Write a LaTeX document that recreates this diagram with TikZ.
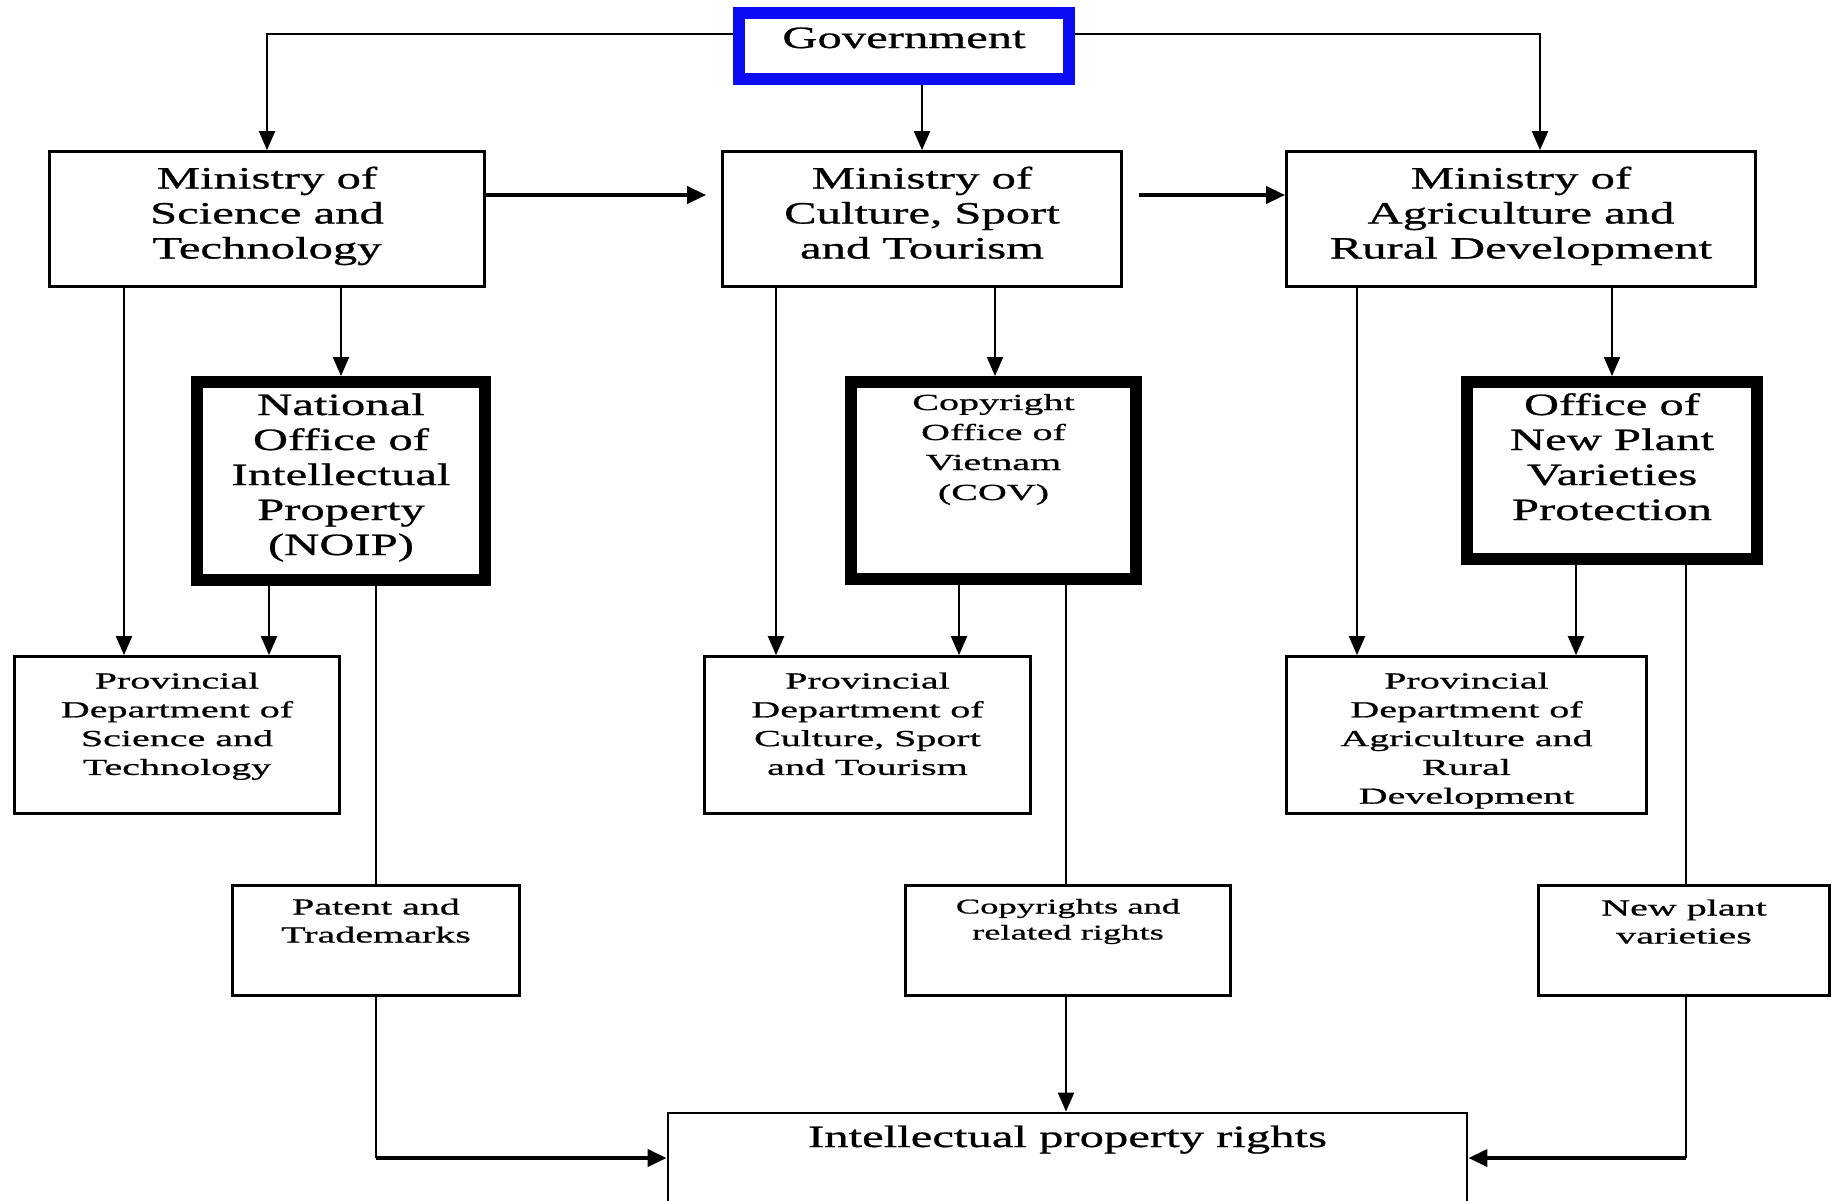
\documentclass[tikz,border=0pt]{standalone}
\usepackage{fontspec}
\usetikzlibrary{arrows.meta}
\setmainfont{Liberation Serif}
\newfontfamily\wideB[FakeStretch=1.57,FakeBold=0.8]{Liberation Serif}
\newfontfamily\wideS[FakeStretch=1.74,FakeBold=0.8]{Liberation Serif}
\definecolor{govblue}{RGB}{12,12,245}
\newcommand\tb[4]{\parbox[c][#2][t]{#1}{\centering\vspace*{\dimexpr#3-\ht\strutbox\relax}\leavevmode\strut#4}}
\tikzset{
  thinbox/.style={draw, line width=2.8pt, inner sep=0pt},
  thickbox/.style={draw, line width=12pt, inner sep=0pt},
  govbox/.style={draw=govblue, line width=12pt, inner sep=0pt},
  bigtext/.style={font=\fontsize{31}{35}\wideB},
  smalltext/.style={font=\fontsize{23}{28.8}\wideS},
  conn/.style={line width=2.2pt},
  arr/.style={-{Triangle[length=19pt,width=16pt]}},
  harr/.style={line width=3.8pt, -{Triangle[length=19pt,width=17pt]}}
}
\begin{document}
\begin{tikzpicture}[x=1pt,y=-1pt]
\fill[white] (0,0) rectangle (1833,1200);
\useasboundingbox (0,0) rectangle (1833,1200);

% boxes
\node[govbox, bigtext] (gov) at (904,46) {\tb{330pt}{66pt}{35pt}{Government}};
\node[thinbox, bigtext] (mst) at (267,219) {\tb{435pt}{135pt}{37pt}{Ministry of\\Science and\\Technology}};
\node[thinbox, bigtext] (mcu) at (922,219) {\tb{399pt}{135pt}{37pt}{Ministry of\\Culture, Sport\\and Tourism}};
\node[thinbox, bigtext] (mag) at (1521,219) {\tb{469pt}{135pt}{37pt}{Ministry of\\Agriculture and\\Rural Development}};
\node[thickbox, bigtext] (noip) at (341,481) {\tb{288pt}{198pt}{33pt}{National\\Office of\\Intellectual\\Property\\(NOIP)}};
\node[thickbox, font=\fontsize{23}{30}\wideS] (cov) at (993.5,480.5) {\tb{285pt}{197pt}{28pt}{Copyright\\Office of\\Vietnam\\(COV)}};
\node[thickbox, bigtext] (npv) at (1612,470.5) {\tb{290pt}{177pt}{33pt}{Office of\\New Plant\\Varieties\\Protection}};
\node[thinbox, smalltext] (pst) at (177,735) {\tb{325pt}{157pt}{32pt}{Provincial\\Department of\\Science and\\Technology}};
\node[thinbox, smalltext] (pcu) at (867.5,735) {\tb{326pt}{157pt}{32pt}{Provincial\\Department of\\Culture, Sport\\and Tourism}};
\node[thinbox, smalltext] (pag) at (1466.5,735) {\tb{360pt}{157pt}{32pt}{Provincial\\Department of\\Agriculture and\\Rural\\Development}};
\node[thinbox, font=\fontsize{23}{28}\wideS] (pat) at (376,940.5) {\tb{287pt}{110pt}{29pt}{Patent and\\Trademarks}};
\node[thinbox, font=\fontsize{21}{26}\wideS] (cop) at (1068,940.5) {\tb{325pt}{110pt}{28pt}{Copyrights and\\related rights}};
\node[thinbox, font=\fontsize{23}{28}\wideS] (npl) at (1684,940.5) {\tb{291pt}{110pt}{30pt}{New plant\\varieties}};
\node[thinbox, bigtext] (ipr) at (1067.5,1181.5) {\tb{799pt}{137pt}{34pt}{Intellectual property rights}};

\coordinate (jl) at (376,1158);
\coordinate (jr) at (1686,1158);

% connectors
\draw[conn, arr] (gov.west |- 0,34) -| (mst.north);
\draw[conn, arr] (gov.east |- 0,34) -| (mag.north -| 1540,0);
\draw[conn, arr] (gov.south -| 922,0) -- (mcu.north -| 922,0);
\draw[harr, shorten >=15pt] (mst.east |- 0,195) -- (mcu.west |- 0,195);
\draw[harr, shorten <=16pt] (mcu.east |- 0,195) -- (mag.west |- 0,195);
\draw[conn, arr] (mst.south -| 341,0) -- (noip.north);
\draw[conn, arr] (mcu.south -| 995,0) -- (cov.north -| 995,0);
\draw[conn, arr] (mag.south -| 1612,0) -- (npv.north);
\draw[conn, arr] (mst.south -| 124,0) -- (pst.north -| 124,0);
\draw[conn, arr] (noip.south -| 269,0) -- (pst.north -| 269,0);
\draw[conn, arr] (mcu.south -| 776,0) -- (pcu.north -| 776,0);
\draw[conn, arr] (cov.south -| 959,0) -- (pcu.north -| 959,0);
\draw[conn, arr] (mag.south -| 1357,0) -- (pag.north -| 1357,0);
\draw[conn, arr] (npv.south -| 1576,0) -- (pag.north -| 1576,0);
\draw[conn] (noip.south -| 376,0) -- (pat.north);
\draw[conn] (cov.south -| 1066,0) -- (cop.north -| 1066,0);
\draw[conn] (npv.south -| 1686,0) -- (npl.north -| 1686,0);
\draw[conn] (pat.south) -- (jl);
\draw[harr] (jl) -- (ipr.west |- jl);
\draw[conn, arr] (cop.south -| 1066,0) -- (ipr.north -| 1066,0);
\draw[conn] (npl.south -| jr) -- (jr);
\draw[harr] (jr) -- (ipr.east |- jr);
\end{tikzpicture}
\end{document}
